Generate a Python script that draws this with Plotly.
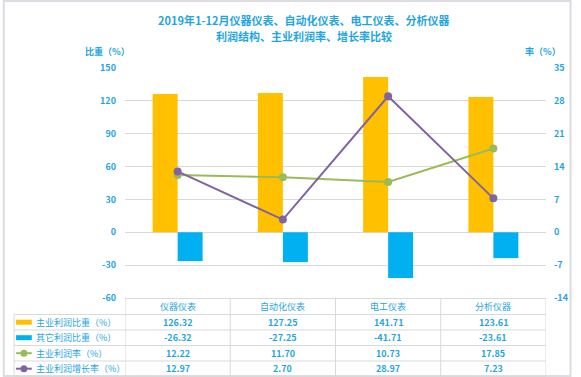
import plotly.graph_objects as go

# ---------------- data ----------------
categories = ["仪器仪表", "自动化仪表", "电工仪表", "分析仪器"]
main_share = [126.32, 127.25, 141.71, 123.61]
other_share = [-26.32, -27.25, -41.71, -23.61]
main_rate = [12.22, 11.70, 10.73, 17.85]
main_growth = [12.97, 2.70, 28.97, 7.23]
series_names = ["主业利润比重（%）", "其它利润比重（%）", "主业利润率（%）", "主业利润增长率（%）"]
left_ticks = [-60, -30, 0, 30, 60, 90, 120, 150]
right_ticks = [-14, -7, 0, 7, 14, 21, 28, 35]
title_lines = ["2019年1-12月仪器仪表、自动化仪表、电工仪表、分析仪器", "利润结构、主业利润率、增长率比较"]
left_axis_title = "比重（%）"
right_axis_title = "率（%）"

# ---------------- style ----------------
W, H = 581, 377
PL, PR, PT, PB = 125, 554, 68, 298
FONT = "Noto Sans CJK SC"
TXT = "#1fa6e2"
GRID = "#d9d9d9"
C_ORANGE = "#FFC000"
C_BLUE = "#00B0F0"
C_GREEN = "#9BBB59"
C_PURPLE = "#8064A2"


def px(x):
    return (x - PL) / (PR - PL)


def py(y):
    return (PB - y) / (PB - PT)


fig = go.Figure()
fig.add_trace(go.Bar(x=categories, y=main_share, name=series_names[0],
                     marker=dict(color=C_ORANGE, line=dict(width=0)), yaxis="y"))
fig.add_trace(go.Bar(x=categories, y=other_share, name=series_names[1],
                     marker=dict(color=C_BLUE, line=dict(width=0)), yaxis="y"))
fig.add_trace(go.Scatter(x=categories, y=main_rate, name=series_names[2], yaxis="y2",
                         mode="lines+markers", line=dict(color=C_GREEN, width=2),
                         marker=dict(color=C_GREEN, size=8)))
fig.add_trace(go.Scatter(x=categories, y=main_growth, name=series_names[3], yaxis="y2",
                         mode="lines+markers", line=dict(color=C_PURPLE, width=2),
                         marker=dict(color=C_PURPLE, size=8)))

shapes = []
annotations = []

# outer border
shapes.append(dict(type="rect", xref="paper", yref="paper",
                   x0=px(1.5), x1=px(579), y0=py(376), y1=py(1),
                   line=dict(color="#dcdce2", width=2), fillcolor="rgba(0,0,0,0)", layer="below"))

# titles
for i, t in enumerate(title_lines):
    annotations.append(dict(text="<b>" + t + "</b>", xref="paper", yref="paper",
                            x=px(307.5), y=py(20 + 15.5 * i), showarrow=False,
                            xanchor="center", yanchor="middle",
                            font=dict(family=FONT, size=11, color=TXT)))
annotations.append(dict(text="<b>" + left_axis_title + "</b>", xref="paper", yref="paper",
                        x=px(107), y=py(51), showarrow=False, xanchor="center", yanchor="middle",
                        font=dict(family=FONT, size=9, color=TXT)))
annotations.append(dict(text="<b>" + right_axis_title + "</b>", xref="paper", yref="paper",
                        x=px(551), y=py(51), showarrow=False, xanchor="center", yanchor="middle",
                        font=dict(family=FONT, size=9, color=TXT)))

# ---------------- data table ----------------
LINE = dict(color=GRID, width=1)
row_lines = [314.5, 330, 345.5, 361, 376.5]
row_centers = [322.2, 337.7, 353.2, 368.7]
header_center = 306.5

shapes.append(dict(type="line", xref="paper", yref="paper", x0=0, x1=1,
                   y0=py(298.5), y1=py(298.5), line=LINE))
for yl in row_lines:
    shapes.append(dict(type="line", xref="paper", yref="paper", x0=px(12), x1=1,
                       y0=py(yl), y1=py(yl), line=LINE))
shapes.append(dict(type="line", xref="paper", yref="paper", x0=px(12), x1=px(12),
                   y0=py(314.5), y1=py(376.5), line=LINE))
for b in [-0.5, 0.5, 1.5, 2.5, 3.5]:
    shapes.append(dict(type="line", xref="x", yref="paper", x0=b, x1=b,
                       y0=py(298.5), y1=py(376.5), line=LINE))

for i, c in enumerate(categories):
    annotations.append(dict(text=c, xref="x", yref="paper", x=i, y=py(header_center),
                            showarrow=False, xanchor="center", yanchor="middle",
                            font=dict(family=FONT, size=9, color=TXT)))

rows = [main_share, other_share, main_rate, main_growth]
for r, vals in enumerate(rows):
    yc = row_centers[r]
    for i, v in enumerate(vals):
        annotations.append(dict(text=f"<b>{v:.2f}</b>", xref="x", yref="paper", x=i, y=py(yc),
                                showarrow=False, xanchor="center", yanchor="middle",
                                font=dict(family=FONT, size=9, color=TXT)))
    annotations.append(dict(text=series_names[r], xref="paper", yref="paper", x=px(32), y=py(yc),
                            showarrow=False, xanchor="left", yanchor="middle",
                            font=dict(family=FONT, size=9, color=TXT)))

for r, col in enumerate([C_ORANGE, C_BLUE]):
    yc = row_centers[r]
    shapes.append(dict(type="rect", xref="paper", yref="paper", x0=px(14), x1=px(30),
                       y0=py(yc + 2.5), y1=py(yc - 2.5), fillcolor=col, line=dict(width=0)))
for r, col in [(2, C_GREEN), (3, C_PURPLE)]:
    yc = row_centers[r]
    shapes.append(dict(type="line", xref="paper", yref="paper", x0=px(14), x1=px(30),
                       y0=py(yc), y1=py(yc), line=dict(color=col, width=2)))
    shapes.append(dict(type="circle", xref="paper", yref="paper", x0=px(18.5), x1=px(25.5),
                       y0=py(yc + 3.5), y1=py(yc - 3.5), fillcolor=col, line=dict(width=0)))

fig.update_layout(
    width=W, height=H,
    margin=dict(l=PL, r=W - PR, t=PT, b=H - PB, pad=0),
    paper_bgcolor="white", plot_bgcolor="white",
    showlegend=False,
    barmode="group", bargap=0.525, bargroupgap=0,
    font=dict(family=FONT, color=TXT),
    xaxis=dict(type="category", range=[-0.5, 3.5], showticklabels=False, showgrid=False,
               zeroline=False, showline=False, ticks=""),
    yaxis=dict(range=[-60, 150], tickvals=left_ticks, ticktext=[str(v) for v in left_ticks],
               showgrid=True, gridcolor=GRID, gridwidth=1, zeroline=False, showline=False,
               ticks="", ticklabelstandoff=8,
               tickfont=dict(family=FONT, size=9, color=TXT, weight="bold")),
    yaxis2=dict(range=[-14, 35], tickvals=right_ticks, ticktext=[str(v) for v in right_ticks],
                overlaying="y", side="right", showgrid=False, zeroline=False, showline=False,
                ticks="", ticklabelstandoff=7,
                tickfont=dict(family=FONT, size=9, color=TXT, weight="bold")),
    shapes=shapes,
    annotations=annotations,
)

fig.write_html("out.html", config={"displayModeBar": False},
               post_script="document.body.style.margin='0';document.body.style.overflow='hidden';")
